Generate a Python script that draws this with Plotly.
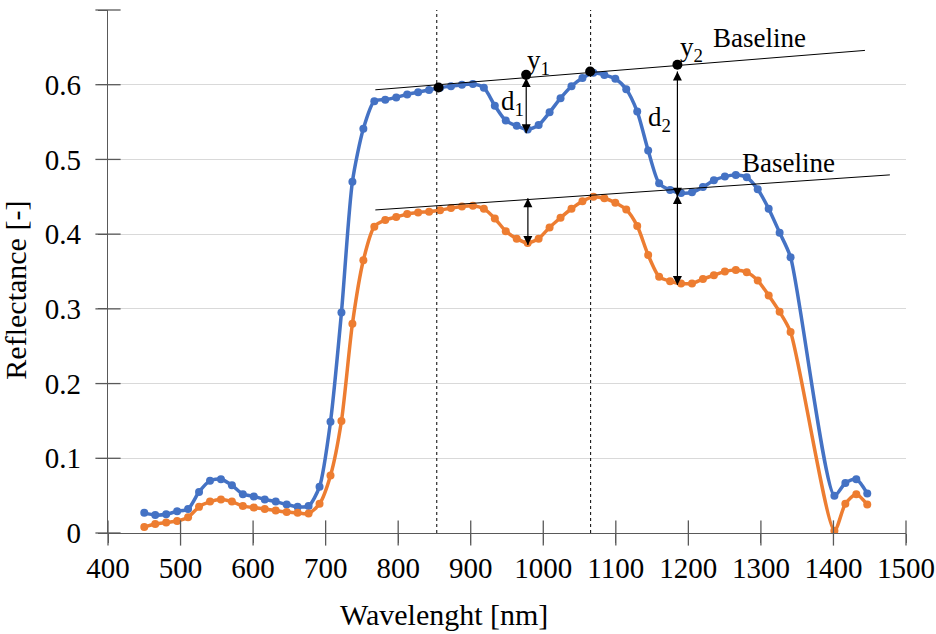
import plotly.graph_objects as go

# wavelengths (nm) of the measured bands
wavelength = [450.0, 465.1, 480.2, 495.3, 510.4, 525.5, 540.6, 555.7, 570.8, 585.9,
              601.0, 616.1, 631.2, 646.3, 661.4, 676.5, 691.6, 706.7, 721.8, 736.9,
              752.0, 767.1, 782.2, 797.3, 812.4, 827.5, 842.6, 857.7, 872.8, 887.9,
              903.0, 918.1, 933.2, 948.3, 963.4, 978.5, 993.6, 1008.7, 1023.8, 1038.9,
              1054.0, 1069.1, 1084.2, 1099.3, 1114.4, 1129.5, 1144.6, 1159.7, 1174.8, 1189.9,
              1205.0, 1220.1, 1235.2, 1250.3, 1265.4, 1280.5, 1295.6, 1310.7, 1325.8, 1340.9,
              1401.3, 1416.4, 1431.5, 1446.6]

blue_reflectance = [0.027, 0.024, 0.025, 0.029, 0.032, 0.055, 0.070, 0.072, 0.064, 0.052,
                    0.049, 0.045, 0.042, 0.038, 0.035, 0.036, 0.062, 0.149, 0.295, 0.470,
                    0.541, 0.578, 0.580, 0.583, 0.587, 0.590, 0.593, 0.596, 0.598, 0.600,
                    0.601, 0.596, 0.572, 0.552, 0.545, 0.540, 0.546, 0.563, 0.582, 0.598,
                    0.609, 0.616, 0.613, 0.608, 0.594, 0.564, 0.512, 0.468, 0.459, 0.455,
                    0.456, 0.463, 0.472, 0.477, 0.479, 0.476, 0.460, 0.434, 0.402, 0.369,
                    0.050, 0.067, 0.072, 0.053]

orange_reflectance = [0.008, 0.012, 0.014, 0.016, 0.021, 0.035, 0.042, 0.045, 0.042, 0.036,
                      0.034, 0.032, 0.030, 0.028, 0.027, 0.026, 0.039, 0.077, 0.150, 0.280,
                      0.365, 0.410, 0.419, 0.423, 0.427, 0.429, 0.430, 0.432, 0.435, 0.437,
                      0.438, 0.434, 0.421, 0.404, 0.394, 0.388, 0.394, 0.409, 0.422, 0.434,
                      0.444, 0.450, 0.448, 0.442, 0.433, 0.411, 0.372, 0.343, 0.337, 0.334,
                      0.334, 0.340, 0.345, 0.350, 0.352, 0.349, 0.338, 0.318, 0.296, 0.269,
                      0.003, 0.039, 0.052, 0.038]

# axis ticks
x_ticks = [400, 500, 600, 700, 800, 900, 1000, 1100, 1200, 1300, 1400, 1500]
y_ticks = [0, 0.1, 0.2, 0.3, 0.4, 0.5, 0.6, 0.7]
y_tick_labels = ["0", "0.1", "0.2", "0.3", "0.4", "0.5", "0.6", "0.7"]
x_range = [400, 1500]
y_range = [0, 0.7]

# annotation geometry (data coordinates)
dashed_x = [853.2, 1065.3]
upper_baseline_x = [768.5, 1443.4]
upper_baseline_y = [0.5932, 0.6459]
lower_baseline_x = [768.5, 1477.8]
lower_baseline_y = [0.4324, 0.4793]
dot_x = [855.6, 976.4, 1064.6, 1184.9]
dot_y = [0.5963, 0.6132, 0.6177, 0.6267]
# double arrows: x, top tip y, bottom tip y
arrow_x = [976.5, 978.8, 1184.9, 1184.9]
arrow_top = [0.609, 0.448, 0.6177, 0.4525]
arrow_bottom = [0.535, 0.3855, 0.4502, 0.3319]
label_text = ["y<sub>1</sub>", "d<sub>1</sub>", "y<sub>2</sub>", "d<sub>2</sub>", "Baseline", "Baseline"]
label_x = [994.0, 957.0, 1205.0, 1159.6, 1298.0, 1337.5]
label_y = [0.631, 0.576, 0.648, 0.554, 0.662, 0.495]

FONT = "Liberation Serif, Times New Roman, DejaVu Serif, serif"
AXIS_COLOR = "#595959"
BLUE = "#4472C4"
ORANGE = "#ED7D31"

fig = go.Figure()

fig.add_trace(go.Scatter(
    x=wavelength, y=blue_reflectance, mode="lines+markers",
    line=dict(color=BLUE, width=3.5, shape="spline", smoothing=0.7),
    marker=dict(color=BLUE, size=8), showlegend=False, hoverinfo="skip"))
fig.add_trace(go.Scatter(
    x=wavelength, y=orange_reflectance, mode="lines+markers",
    line=dict(color=ORANGE, width=3.5, shape="spline", smoothing=0.7),
    marker=dict(color=ORANGE, size=8), showlegend=False, hoverinfo="skip"))

# vertical dashed lines
for xv in dashed_x:
    fig.add_trace(go.Scatter(x=[xv, xv], y=y_range, mode="lines",
                             line=dict(color="black", width=1, dash="3px,3px"),
                             showlegend=False, hoverinfo="skip"))

# baselines
fig.add_trace(go.Scatter(x=upper_baseline_x, y=upper_baseline_y, mode="lines",
                         line=dict(color="black", width=1), showlegend=False, hoverinfo="skip"))
fig.add_trace(go.Scatter(x=lower_baseline_x, y=lower_baseline_y, mode="lines",
                         line=dict(color="black", width=1), showlegend=False, hoverinfo="skip"))

# double-headed arrows (line + arrow-up / arrow-down symbols whose tip is at the point)
for ax_, yt, yb in zip(arrow_x, arrow_top, arrow_bottom):
    fig.add_trace(go.Scatter(x=[ax_, ax_], y=[yt, yb], mode="lines",
                             line=dict(color="black", width=1.2),
                             showlegend=False, hoverinfo="skip"))
    fig.add_trace(go.Scatter(x=[ax_, ax_], y=[yt, yb], mode="markers",
                             marker=dict(color="black", size=9,
                                         symbol=["arrow-up", "arrow-down"]),
                             showlegend=False, hoverinfo="skip"))

# black dots
fig.add_trace(go.Scatter(x=dot_x, y=dot_y, mode="markers",
                         marker=dict(color="black", size=10), showlegend=False, hoverinfo="skip"))

# tick marks crossing the axis lines (Excel style)
fig.add_trace(go.Scatter(x=x_ticks, y=[y_range[0]] * len(x_ticks), mode="markers",
                         marker=dict(symbol="line-ns-open", size=18, color=AXIS_COLOR,
                                     line=dict(color=AXIS_COLOR, width=1.3)),
                         cliponaxis=False, showlegend=False, hoverinfo="skip"))
fig.add_trace(go.Scatter(x=[x_range[0]] * len(y_ticks), y=y_ticks, mode="markers",
                         marker=dict(symbol="line-ew-open", size=18, color=AXIS_COLOR,
                                     line=dict(color=AXIS_COLOR, width=1.3)),
                         cliponaxis=False, showlegend=False, hoverinfo="skip"))

annotations = []
for t, lx, ly in zip(label_text, label_x, label_y):
    annotations.append(dict(
        x=lx, y=ly, xref="x", yref="y", text=t, showarrow=False,
        font=dict(family=FONT, size=27, color="black"),
        xanchor="center", yanchor="middle"))
# axis titles
annotations.append(dict(
    x=0.421, y=-0.155, xref="paper", yref="paper", text="Wavelenght [nm]",
    showarrow=False, font=dict(family=FONT, size=30, color="black"),
    xanchor="center", yanchor="middle"))
annotations.append(dict(
    x=-0.1155, y=0.465, xref="paper", yref="paper", text="Reflectance [-]",
    showarrow=False, textangle=-90, font=dict(family=FONT, size=30, color="black"),
    xanchor="center", yanchor="middle"))

fig.update_layout(
    width=936, height=634,
    margin=dict(l=108, r=30, t=10, b=101, pad=0),
    paper_bgcolor="white", plot_bgcolor="white",
    font=dict(family=FONT, size=29, color="black"),
    annotations=annotations,
    xaxis=dict(range=x_range, tickvals=x_ticks, showgrid=False, zeroline=False,
               automargin=False,
               showline=True, linecolor=AXIS_COLOR, linewidth=1.3,
               ticks="outside", ticklen=9, tickwidth=1.3, tickcolor=AXIS_COLOR,
               tickfont=dict(family=FONT, size=29, color="black")),
    yaxis=dict(range=y_range, tickvals=y_ticks, ticktext=y_tick_labels,
               showgrid=True, gridcolor="#d9d9d9",
               gridwidth=1, zeroline=False, automargin=False,
               showline=True, linecolor=AXIS_COLOR, linewidth=1.3,
               ticks="outside", ticklen=9, tickwidth=1.3, tickcolor=AXIS_COLOR,
               ticklabelstandoff=11,
               tickfont=dict(family=FONT, size=29, color="black")),
)

fig.write_html("out.html", config={"displayModeBar": False},
               post_script="document.body.style.margin='0';")
